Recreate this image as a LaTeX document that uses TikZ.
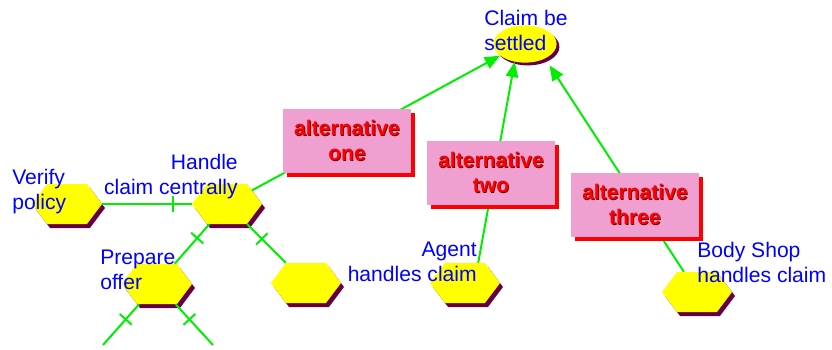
\documentclass[tikz,border=0pt]{standalone}
\usepackage{fontspec}
\setmainfont{Liberation Sans}
\usetikzlibrary{positioning,shapes.geometric,shapes.symbols,shadows,arrows.meta,decorations.markings}
\definecolor{hexyellow}{RGB}{255,255,0}
\definecolor{hexshade}{RGB}{102,0,68}
\definecolor{altpink}{RGB}{240,160,208}
\definecolor{linkgreen}{RGB}{0,238,0}
\definecolor{lblblue}{RGB}{0,0,255}
\definecolor{altdark}{RGB}{110,0,0}
\newcommand{\shtxt}[1]{\leavevmode\rlap{\kern0.6pt\raisebox{-0.6pt}{\textcolor{altdark}{#1}}}#1}
\tikzstyle{hexa}=[signal, signal to=west and east, signal pointer angle=106, fill=hexyellow, minimum width=1.75cm, minimum height=1cm, inner sep=0pt, drop shadow={shadow xshift=0.075cm, shadow yshift=-0.1cm, fill=hexshade, opacity=1}]
\tikzstyle{goalell}=[ellipse, fill=hexyellow, minimum width=1.58cm, minimum height=0.93cm, inner sep=0pt, drop shadow={shadow xshift=0.07cm, shadow yshift=-0.07cm, fill=hexshade, opacity=1}]
\tikzstyle{altbox}=[fill=altpink, text=red, font=\bfseries\fontsize{15}{17.8}\selectfont, align=center, minimum width=3.2cm, minimum height=1.575cm, inner sep=0pt, drop shadow={shadow xshift=0.1cm, shadow yshift=-0.1cm, fill=red, opacity=1}]
\tikzstyle{lbl}=[text=lblblue, font=\fontsize{15}{17.8}\selectfont, inner sep=0pt]
\tikzstyle{link}=[draw=linkgreen, line width=0.05cm]
\tikzset{tickmark/.style={postaction={decorate}, decoration={markings, mark=at position #1 with {\draw[linkgreen, line width=0.05cm] (0,-0.2cm) -- (0,0.2cm);}}}}

\begin{document}
\begin{tikzpicture}[x=0.025cm,y=-0.025cm,>={Triangle[length=0.38cm,width=0.31cm]}]
\useasboundingbox (0,0) rectangle (832,349);

\node[goalell] (settled) at (525,44) {};

\node[hexa] (verify) at (67,204) {};
\node[hexa] (handle) at (227,204) {};
\node[hexa] (offer) at (157,284) {};
\node[hexa] (blank) at (306,283) {};
\node[hexa] (agent) at (465,283) {};
\node[hexa] (bodyshop) at (697,292) {};

\coordinate (offerleft) at (103,345);
\coordinate (offerright) at (213,345);

\draw[link,tickmark=0.79] (verify) -- (handle);
\draw[link,tickmark=0.35] (handle) -- (offer);
\draw[link,tickmark=0.38] (handle) -- (blank);
\draw[link,tickmark=0.37] (offer) -- (offerleft);
\draw[link,tickmark=0.37] (offer) -- (offerright);

% alternatives, boxes sit over the links
\draw[link,->] (handle) -- (settled.205);
\draw[link,->] ([xshift=0.33cm]agent.north) -- (settled.240);
\draw[link,->,shorten >=0.2cm] ([xshift=-0.33cm]bodyshop.north) -- (settled.324);

\node[altbox] (altone) at (347,141) {\shtxt{alternative}\\\shtxt{one}};
\node[altbox] (alttwo) at (491,173) {\shtxt{alternative}\\\shtxt{two}};
\node[altbox] (altthree) at (635,205) {\shtxt{alternative}\\\shtxt{three}};

\node[lbl,anchor=west,align=left] (settledlbl) at (484,30) {Claim be\\settled};
\node[lbl,anchor=west,align=left] (verifylbl) at (12,192) {Verify\\policy};
\node[lbl,anchor=east,align=right] (handlelbl) at (238,177) {Handle\\claim centrally};
\node[lbl,anchor=west,align=left] (offerlbl) at (100,270) {Prepare\\offer};
\node[lbl,anchor=east,align=right] (agentlbl) at (477,262) {Agent\\handles claim};
\node[lbl,anchor=west,align=left] (bodylbl) at (697,262) {Body Shop\\handles claim};
\end{tikzpicture}
\end{document}
